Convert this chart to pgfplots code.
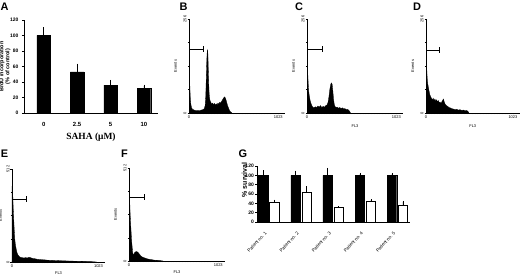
\documentclass[border=0pt]{standalone}
\usepackage{fontspec}
\setmainfont{Liberation Sans}
\newfontfamily\timesf{Liberation Serif}
\usepackage{pgfplots}
\pgfplotsset{compat=1.18}
\newcommand{\fs}[1]{\fontsize{#1}{#1}\selectfont}
\pgfplotsset{
  hist/.style={
    scale only axis, anchor=south west,
    axis lines=left, axis line style={-, line width=0.45bp},
    xmin=0, xmax=1100, ymin=0,
    xtick={0,1023}, xticklabels={0,1023}, minor xtick={32,64,...,1023},
    tick align=outside, major tick length=1.5bp, minor tick length=1.2bp,
    tick style={black, line width=0.4bp},
    /pgf/number format/assume math mode=true,
    /pgf/number format/1000 sep={},
    tick label style={font=\fs{4}},
    xticklabel style={inner sep=1bp},
    yticklabel style={rotate=90, anchor=south, inner sep=1bp},
    ylabel={Events}, xlabel={FL3},
    label style={font=\fs{4}},
    ylabel style={at={(axis description cs:-0.09,0.5)}, anchor=south},
    xlabel style={at={(axis description cs:0.5,-0.09)}, anchor=north},
  },
  histfill/.style={fill=black, draw=black, line width=0.3bp},
  bracket/.style={black, line width=0.4bp, -|},
}
\begin{document}
\begin{tikzpicture}
% ---------------- Panel A ----------------
\begin{axis}[scale only axis, anchor=south west, at={(24bp,162bp)},
  width=134bp, height=93bp,
  axis lines=left, axis line style={-, line width=0.5bp},
  xmin=-0.59, xmax=3.42, ymin=0, ymax=120, ytick={0,20,...,120},
  xtick={0,1,2,3}, xticklabels={0,2.5,5,10},
  tick align=outside, major tick length=2bp,
  ytick style={black, line width=0.5bp}, xtick style={draw=none},
  /pgf/number format/assume math mode=true,
  yticklabel style={font=\fs{5}\bfseries},
  xticklabel style={font=\fs{6}\bfseries, yshift=-4bp},
  ylabel={BrdU incorporation\\(\% of control)},
  ylabel style={font=\fontsize{5.5}{6}\selectfont\bfseries, align=center, at={(axis description cs:-0.075,0.5)}, anchor=south},
  xlabel={SAHA (μM)},
  xlabel style={font=\timesf\fs{9.5}\bfseries, at={(axis description cs:0.5,-0.175)}, anchor=north},
  ybar, bar width=13.5bp,
]
\addplot[fill=black, draw=black,
  error bars/.cd, y dir=plus, y explicit,
  error bar style={black, line width=0.5bp},
  error mark options={black, mark size=1.3bp, line width=0.5bp}]
 coordinates {(0,100) +- (0,9) (1,53) +- (0,9) (2,36) +- (0,5) (3,32) +- (0,3)};
\end{axis}
% ---------------- Panel B ----------------
\begin{axis}[hist, at={(189bp,162bp)}, width=96bp, height=94bp,
  ymax=256, ytick={0,256}, minor ytick={64,128,192}, xlabel={}]
\addplot[histfill] coordinates {(0,0)(2,122)(6,110)(10,70)(15,40)(22,22)(30,14)(40,10)(60,8)(80,6)(100,7)(120,6)(140,8)(160,9)(175,12)(185,20)(192,45)(198,95)(204,145)(209,168)(213,172)(217,158)(221,120)(226,80)(231,52)(237,38)(244,32)(252,28)(262,24)(272,27)(282,22)(292,26)(302,21)(312,25)(322,22)(332,27)(342,24)(352,29)(362,27)(372,31)(382,35)(392,39)(400,42)(408,44)(416,41)(424,36)(432,29)(442,20)(452,14)(462,8)(472,4)(482,2)(490,0)} \closedcycle;
\addplot[bracket] coordinates {(0,174)(160,174)};
\end{axis}
% ---------------- Panel C ----------------
\begin{axis}[hist, at={(307bp,162bp)}, width=96bp, height=94bp,
  ymax=256, ytick={0,256}, minor ytick={64,128,192}]
\addplot[histfill] coordinates {(0,0)(2,144)(6,130)(10,100)(15,75)(20,58)(28,44)(36,34)(46,26)(56,20)(66,16)(80,14)(95,17)(110,15)(125,19)(140,16)(155,20)(170,15)(185,18)(200,16)(215,20)(230,22)(242,30)(252,45)(262,65)(272,78)(280,82)(288,78)(296,60)(304,38)(312,24)(320,18)(332,15)(345,16)(360,13)(375,15)(390,12)(405,14)(420,11)(435,12)(450,9)(465,10)(480,7)(490,4)(498,0)} \closedcycle;
\addplot[bracket] coordinates {(0,174)(172,174)};
\end{axis}
% ---------------- Panel D ----------------
\begin{axis}[hist, at={(426bp,162bp)}, width=93.5bp, height=94bp,
  ymax=256, ytick={0,256}, minor ytick={64,128,192}]
\addplot[histfill] coordinates {(0,0)(2,190)(5,160)(9,120)(14,95)(20,80)(28,70)(36,60)(45,50)(55,44)(65,40)(75,36)(85,40)(95,34)(105,38)(115,32)(125,36)(135,30)(145,34)(155,28)(165,30)(175,26)(185,30)(195,34)(205,38)(215,30)(225,24)(240,20)(255,18)(270,15)(285,14)(300,12)(320,11)(340,9)(360,10)(380,8)(400,9)(420,7)(440,8)(460,6)(480,7)(495,4)(505,0)} \closedcycle;
\addplot[bracket] coordinates {(0,171)(152,171)};
\end{axis}
% ---------------- Panel E ----------------
\begin{axis}[hist, at={(12bp,13bp)}, width=93bp, height=93bp,
  ymax=512, ytick={0,512}, minor ytick={128,256,384},
  ylabel style={at={(axis description cs:-0.07,0.5)}, anchor=south},
  xlabel style={at={(axis description cs:0.5,-0.07)}, anchor=north}]
\addplot[histfill] coordinates {(0,0)(2,468)(6,420)(10,360)(14,300)(20,240)(26,180)(32,130)(40,95)(50,70)(60,50)(72,38)(85,30)(100,26)(120,24)(140,22)(160,24)(180,22)(200,26)(220,24)(240,20)(270,18)(300,15)(340,13)(380,12)(420,10)(470,9)(520,8)(580,7)(640,6)(700,5)(780,4)(860,3)(940,2)(1000,0)} \closedcycle;
\addplot[bracket] coordinates {(0,347)(166,347)};
\end{axis}
% ---------------- Panel F ----------------
\begin{axis}[hist, at={(129bp,14bp)}, width=96bp, height=93bp,
  ymax=512, ytick={0,512}, minor ytick={128,256,384},
  xlabel style={at={(axis description cs:0.5,-0.07)}, anchor=north}]
\addplot[histfill] coordinates {(0,0)(2,457)(5,400)(9,320)(13,260)(18,210)(24,160)(30,110)(36,78)(42,45)(47,34)(54,38)(62,44)(72,49)(82,52)(92,51)(102,48)(112,42)(122,36)(132,30)(145,24)(160,20)(180,17)(200,13)(225,10)(250,8)(275,6)(300,4)(330,3)(360,2)(390,0)} \closedcycle;
\addplot[bracket] coordinates {(0,352)(172,352)};
\end{axis}
% ---------------- Panel G ----------------
\begin{axis}[scale only axis, anchor=south west, at={(257bp,53bp)},
  width=153bp, height=56bp,
  axis lines=left, axis line style={-, line width=0.5bp},
  xmin=0.63, xmax=5.39, ymin=0, ymax=120, ytick={0,20,...,120},
  xtick={1,2,3,4,5},
  xticklabels={Patient no. 1,Patient no. 2,Patient no. 3,Patient no. 4,Patient no. 5},
  tick align=outside, major tick length=2bp,
  ytick style={black, line width=0.5bp}, xtick style={draw=none},
  /pgf/number format/assume math mode=true,
  yticklabel style={font=\fs{5}\bfseries, inner sep=1bp},
  xticklabel style={font=\fs{4.6}, xshift=-3bp, yshift=-8bp, rotate=48, anchor=east, inner sep=0pt},
  ylabel={\% survival},
  ylabel style={font=\fs{7}\bfseries, at={(axis description cs:-0.042,0.75)}, anchor=south},
  ybar=1.5bp, bar width=9.5bp,
]
\addplot[fill=black, draw=black,
  error bars/.cd, y dir=plus, y explicit,
  error bar style={black, line width=0.5bp},
  error mark options={black, mark size=1bp, line width=0.5bp}]
 coordinates {(1,100) +- (0,9) (2,100) +- (0,8) (3,100) +- (0,14) (4,100) +- (0,3) (5,100) +- (0,3)};
\addplot[fill=white, draw=black, line width=0.5bp,
  error bars/.cd, y dir=plus, y explicit,
  error bar style={black, line width=0.5bp},
  error mark options={black, mark size=1bp, line width=0.5bp}]
 coordinates {(1,42) +- (0,4) (2,63) +- (0,11) (3,31) +- (0,1) (4,45) +- (0,2) (5,35) +- (0,8)};
\end{axis}
% ---------------- Panel letters ----------------
\begin{scope}[every node/.style={font=\fs{11}\bfseries, inner sep=0pt, anchor=center}]
\node at (4.5bp,268.5bp) {A};
\node at (183.5bp,268bp) {B};
\node at (299bp,268bp) {C};
\node at (417bp,268bp) {D};
\node at (4.5bp,121bp) {E};
\node at (124.5bp,121bp) {F};
\node at (243bp,121bp) {G};
\end{scope}
\pgfresetboundingbox
\path[use as bounding box] (0,0) rectangle (520bp,275bp);
\end{tikzpicture}
\end{document}
